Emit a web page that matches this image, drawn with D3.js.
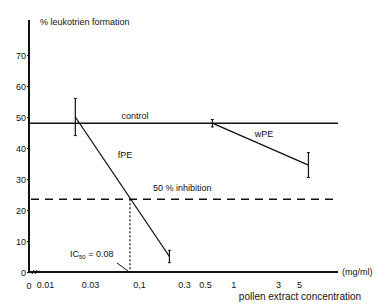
<!DOCTYPE html>
<html>
<head>
<meta charset="utf-8">
<script src="https://cdn.jsdelivr.net/npm/d3@7"></script>
<style>
  body { margin: 0; background: #fff; }
  svg { display: block; }
  text { font-family: "Liberation Sans", Arial, sans-serif; fill: #111; }
</style>
</head>
<body>
<div id="chart"></div>
<script>
// data
const yTicks = [0, 10, 20, 30, 40, 50, 60, 70]
const xTicks = [0.01, 0.03, 0.1, 0.3, 0.5, 1, 3, 5]
const xTickLabels = ['0.01', '0.03', '0,1', '0.3', '0.5', '1', '3', '5']

const fpeConc = [0.021, 0.21]
const fpeMean = [50, 5]
const fpeErr = [6, 2]

const wpeConc = [0.6, 6.3]
const wpeMean = [48, 34.5]
const wpeErr = [1.2, 4]

const controlLevel = 48
const inhibitionLevel = 23.5
const ic50 = 0.08

function draw() {
    const width = 387
    const height = 304
    const x0 = 29        // axis origin ("0")
    const xEnd = 338
    const yTop = 20

    const svg = d3.select('#chart')
        .append('svg')
        .attr('width', width)
        .attr('height', height)

    // scales
    const xScale = d3.scaleLog()
        .domain([0.01, 5])
        .range([45, 299])

    const yScale = d3.scaleLinear()
        .domain([0, 70])
        .range([272, 55])

    const y0 = yScale(0)

    // y axis ticks
    const yAxis = d3.axisLeft(yScale)
        .tickValues(yTicks)
        .tickSize(2)
        .tickPadding(1)
    const yG = svg.append('g')
        .attr('transform', `translate(${x0},0)`)
        .call(yAxis)
    yG.select('.domain').remove()
    yG.selectAll('text').style('font-size', '9px').attr('dy', '0.35em')

    // x axis labels
    const xAxis = d3.axisBottom(xScale)
        .tickValues(xTicks)
        .tickSize(0)
        .tickPadding(10)
        .tickFormat((d, i) => xTickLabels[i])
    const xG = svg.append('g')
        .attr('transform', `translate(0,${y0})`)
        .call(xAxis)
    xG.select('.domain').remove()
    xG.selectAll('text').style('font-size', '9px')

    // "0" on x axis
    svg.append('text')
        .attr('x', x0)
        .attr('y', y0 + 17)
        .attr('text-anchor', 'middle')
        .style('font-size', '9px')
        .text('0')

    // axis lines
    svg.append('line')
        .attr('x1', x0).attr('x2', x0)
        .attr('y1', yTop).attr('y2', y0 + 1)
        .attr('stroke', '#111').attr('stroke-width', 2)
    svg.append('line')
        .attr('x1', x0).attr('x2', xEnd)
        .attr('y1', y0).attr('y2', y0)
        .attr('stroke', '#111').attr('stroke-width', 2)

    // axis break marks near origin
    svg.append('path')
        .attr('d', `M${x0 + 3},${y0 + 2} l2,-4 M${x0 + 6},${y0 + 2} l2,-4`)
        .attr('stroke', '#111').attr('stroke-width', 1).attr('fill', 'none')

    // control line
    svg.append('line')
        .attr('x1', x0).attr('x2', xEnd)
        .attr('y1', yScale(controlLevel)).attr('y2', yScale(controlLevel))
        .attr('stroke', '#111').attr('stroke-width', 1.5)

    // 50% inhibition dashed line
    svg.append('line')
        .attr('x1', x0 + 2).attr('x2', xEnd)
        .attr('y1', yScale(inhibitionLevel)).attr('y2', yScale(inhibitionLevel))
        .attr('stroke', '#111').attr('stroke-width', 1.5)
        .attr('stroke-dasharray', '8,6')

    // IC50 dotted drop line
    svg.append('line')
        .attr('x1', xScale(ic50)).attr('x2', xScale(ic50))
        .attr('y1', yScale(inhibitionLevel)).attr('y2', y0)
        .attr('stroke', '#111').attr('stroke-width', 1.2)
        .attr('stroke-dasharray', '2,2')

    // series lines + error bars
    const line = d3.line()
        .x(d => xScale(d.c))
        .y(d => yScale(d.m))

    const series = [
        { conc: fpeConc, mean: fpeMean, err: fpeErr },
        { conc: wpeConc, mean: wpeMean, err: wpeErr }
    ]

    series.forEach(s => {
        const pts = s.conc.map((c, i) => ({ c: c, m: s.mean[i], e: s.err[i] }))
        svg.append('path')
            .datum(pts)
            .attr('d', line)
            .attr('fill', 'none')
            .attr('stroke', '#111')
            .attr('stroke-width', 1.3)

        const eb = svg.append('g').selectAll('g')
            .data(pts)
            .join('g')
        eb.append('line')
            .attr('x1', d => xScale(d.c)).attr('x2', d => xScale(d.c))
            .attr('y1', d => yScale(d.m + d.e)).attr('y2', d => yScale(d.m - d.e))
            .attr('stroke', '#111').attr('stroke-width', 1.2)
        eb.append('path')
            .attr('d', d => {
                const cx = xScale(d.c)
                return `M${cx - 1.5},${yScale(d.m + d.e)}h3M${cx - 1.5},${yScale(d.m - d.e)}h3`
            })
            .attr('stroke', '#111').attr('stroke-width', 1)
    })

    // labels
    const labels = [
        { t: '% leukotrien formation', x: 40, y: 25, a: 'start', s: 9 },
        { t: 'control', x: 135, y: 119, a: 'middle', s: 9 },
        { t: 'fPE', x: 125, y: 158, a: 'middle', s: 9 },
        { t: 'wPE', x: 264, y: 137, a: 'middle', s: 9 },
        { t: '50 % inhibition', x: 153, y: 191, a: 'start', s: 9 },
        { t: '(mg/ml)', x: 342, y: 275, a: 'start', s: 9 },
        { t: 'pollen extract concentration', x: 300, y: 300, a: 'middle', s: 10 }
    ]
    svg.selectAll('.lbl')
        .data(labels)
        .join('text')
        .attr('class', 'lbl')
        .attr('x', d => d.x)
        .attr('y', d => d.y)
        .attr('text-anchor', d => d.a)
        .style('font-size', d => d.s + 'px')
        .text(d => d.t)

    // IC50 label
    const ic = svg.append('text')
        .attr('x', 70)
        .attr('y', 257)
        .style('font-size', '9px')
    ic.append('tspan').text('IC')
    ic.append('tspan').attr('dy', 2).style('font-size', '6px').text('50')
    ic.append('tspan').attr('dy', -2).text(' = 0.08')

    // little pointer from label to axis
    svg.append('line')
        .attr('x1', 117).attr('y1', 263)
        .attr('x2', xScale(ic50) - 2).attr('y2', y0 - 1)
        .attr('stroke', '#111').attr('stroke-width', 1)
}

draw()
</script>
</body>
</html>
